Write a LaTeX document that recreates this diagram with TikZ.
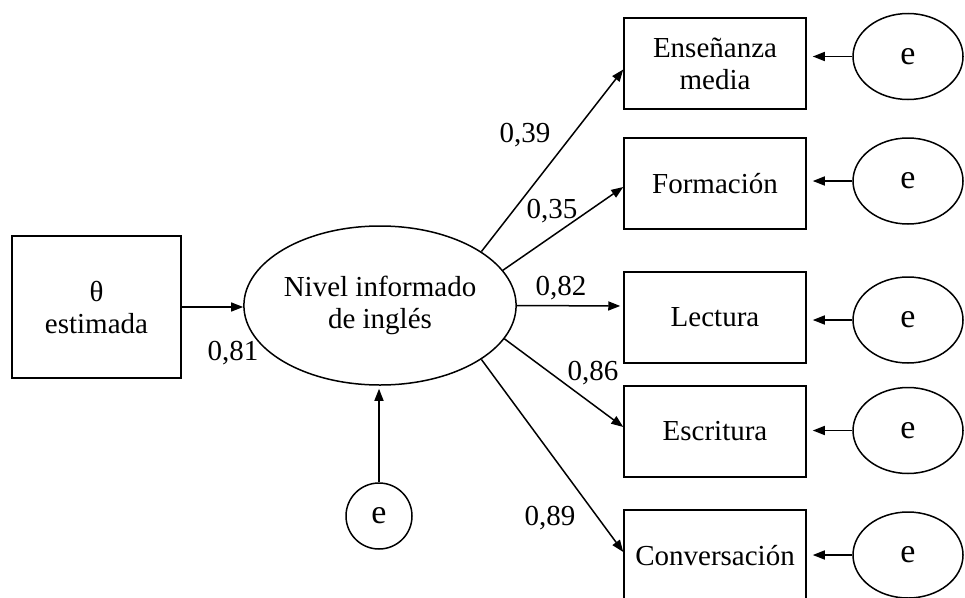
\documentclass[tikz,border=0pt]{standalone}
\usepackage{fontspec}
\setmainfont{Liberation Serif}
\usetikzlibrary{arrows.meta,shapes.geometric,calc}
\tikzset{
  base/.style={line width=1.5pt, font=\fontsize{29}{32}\selectfont, align=center, inner sep=0pt},
  obsbox/.style={base, draw, rectangle, minimum width=182pt, minimum height=91pt},
  latent/.style={base, draw, ellipse, minimum width=236pt, minimum height=159pt},
  errell/.style={base, draw, ellipse, minimum width=110pt, minimum height=86pt, font=\fontsize{34}{36}\selectfont},
  errcirc/.style={base, draw, circle, minimum size=66pt, font=\fontsize{34}{36}\selectfont},
  coef/.style={font=\fontsize{29}{32}\selectfont, inner sep=0pt, anchor=base},
  arr/.style={line width=1.5pt, -{Triangle[length=12pt,width=9pt]}}
}
\begin{document}
\begin{tikzpicture}[x=1pt,y=-1pt]
\useasboundingbox (0,0) rectangle (965,597);
\begin{scope}
\clip (0,0) rectangle (965,597);
\node[obsbox, minimum width=169pt, minimum height=142pt] (th) at (96.5,307) {θ\\estimada};
\node[latent] (lat) at (380,305.5) {Nivel informado\\de inglés};
\node[errcirc] (eb) at (379,516) {e};

\node[obsbox] (b1) at (715,63.5) {Enseñanza\\media};
\node[obsbox] (b2) at (715,183.5) {Formación};
\node[obsbox] (b3) at (715,317.5) {Lectura};
\node[obsbox] (b4) at (715,431.5) {Escritura};
\node[obsbox] (b5) at (715,555.5) {Conversación};

\node[errell] (e1) at (908,56.5) {e};
\node[errell] (e2) at (908,181) {e};
\node[errell] (e3) at (908,320) {e};
\node[errell] (e4) at (908,430.5) {e};
\node[errell] (e5) at (908,555) {e};

\draw[arr] (th.east) -- (th.east -| lat.west);
\draw[arr, shorten >=3pt] (eb.north) -- (eb.north |- lat.south);

\draw[arr] (lat.28.4) -- ([yshift=-6pt]b1.west);
\draw[arr] (lat.16) -- ([yshift=-3.5pt]b2.west);
\draw[arr, shorten >=3pt] (lat.0) -- ([yshift=11.5pt]b3.west);
\draw[arr] (lat.-15.7) -- ([yshift=4.5pt]b4.west);
\draw[arr] (lat.-28.5) -- ([yshift=3.5pt]b5.west);

\foreach \i in {1,...,5}{
  \draw[arr, shorten >=6pt] (e\i.west) -- (e\i.west -| b\i.east);
}

\node[coef] (c81) at (233,360) {0,81};
\node[coef] (c39) at (525,142) {0,39};
\node[coef] (c35) at (552,218) {0,35};
\node[coef] (c82) at (561,295) {0,82};
\node[coef] (c86) at (593,380) {0,86};
\node[coef] (c89) at (550,525) {0,89};
\end{scope}
\end{tikzpicture}
\end{document}
